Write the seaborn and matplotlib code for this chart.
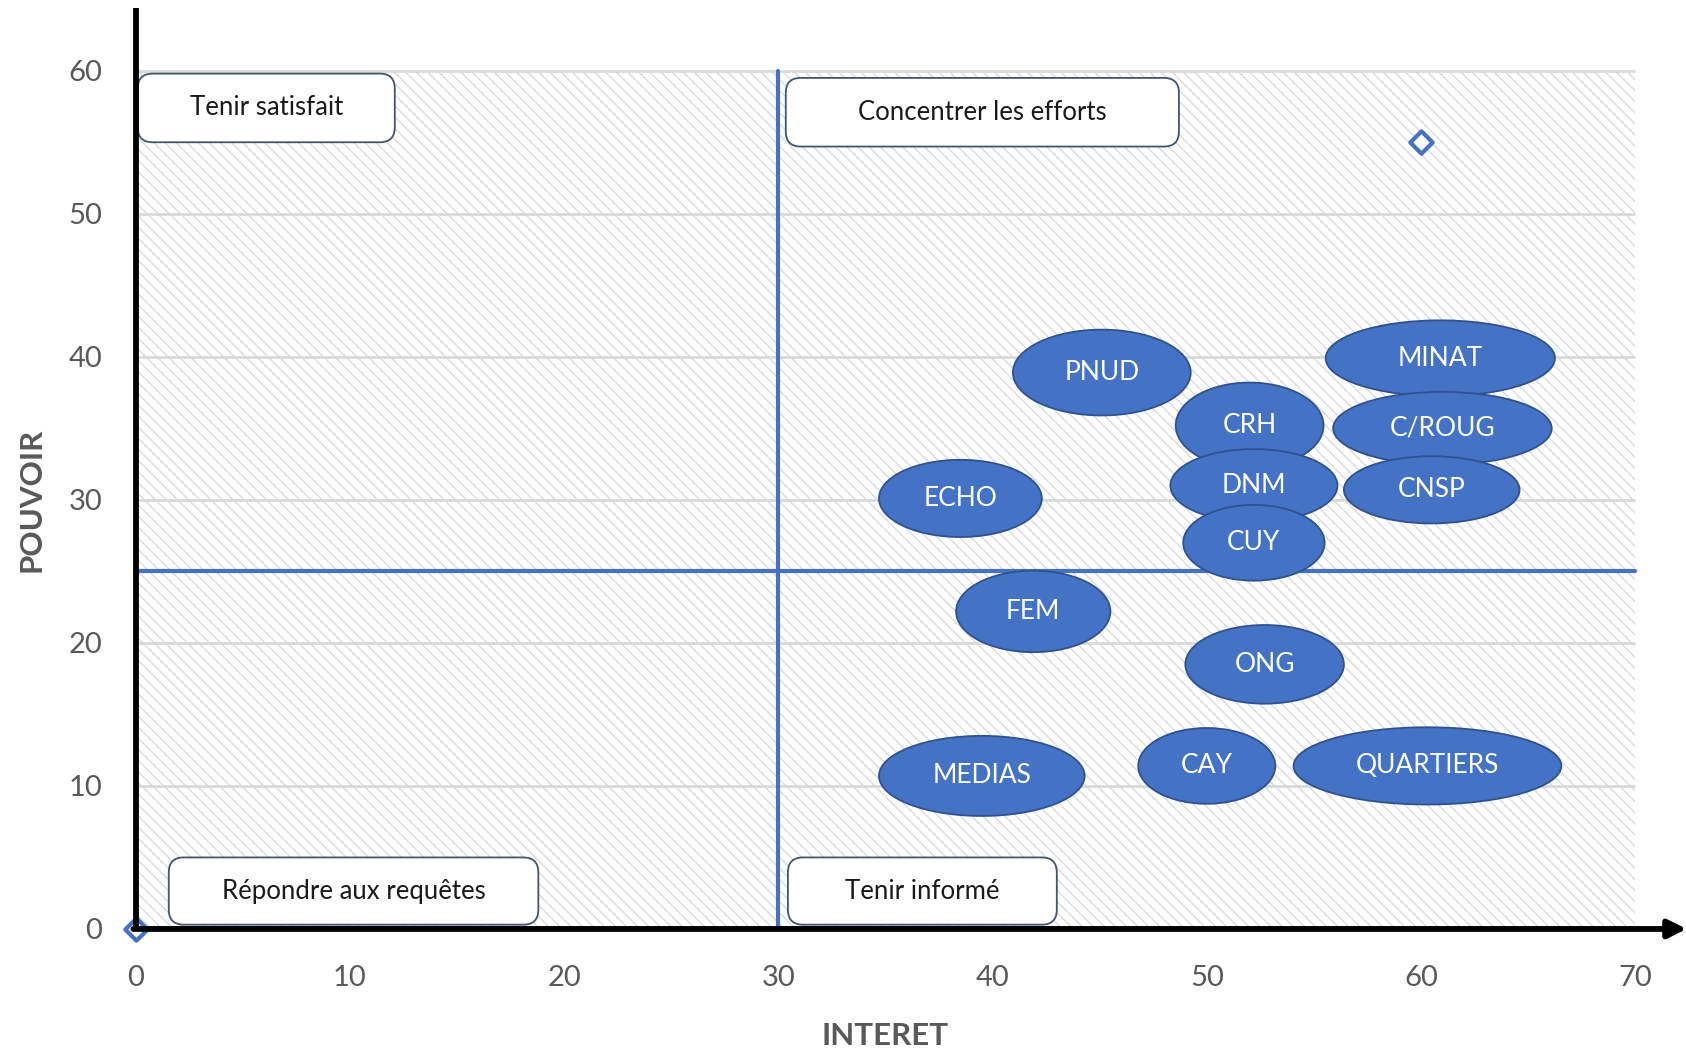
import matplotlib
matplotlib.use("Agg")
import matplotlib.pyplot as plt
from matplotlib.patches import Ellipse, FancyBboxPatch, Rectangle
import seaborn as sns
import pandas as pd

# ---- data ----
names = ["PNUD", "MINAT", "C/ROUG", "CRH", "DNM", "CNSP", "CUY", "ECHO",
         "FEM", "ONG", "MEDIAS", "CAY", "QUARTIERS"]
interet = [45.1, 60.9, 61.0, 52.0, 52.2, 60.5, 52.2, 38.5, 41.9, 52.7, 39.5, 50.0, 60.3]
pouvoir = [38.9, 39.9, 35.0, 35.2, 31.0, 30.7, 27.0, 30.1, 22.2, 18.5, 10.7, 11.4, 11.4]

marker_x = [0, 60]
marker_y = [0, 55]

quadrants = ["Tenir satisfait", "Concentrer les efforts", "Répondre aux requêtes", "Tenir informé"]
x_ticks = [0, 10, 20, 30, 40, 50, 60, 70]
y_ticks = [0, 10, 20, 30, 40, 50, 60]
x_split = 30
y_split = 25

# ---- styles (sizes of shapes, not data) ----
ell_w = [8.3, 10.7, 10.2, 6.9, 7.8, 8.2, 6.6, 7.6, 7.2, 7.4, 9.6, 6.4, 12.5]
ell_h = [6.0, 5.3, 5.1, 6.0, 5.1, 4.7, 5.3, 5.4, 5.7, 5.5, 5.6, 5.3, 5.4]
ell_order = [0, 1, 2, 5, 7, 8, 9, 10, 11, 12, 6, 4, 3]
quad_boxes = [(0.1, 55.0, 12.0, 4.8), (30.35, 54.7, 18.35, 4.8),
              (1.55, 0.3, 17.25, 4.7), (30.45, 0.3, 12.55, 4.7)]

sns.set_theme(style="white")
plt.rcParams['font.family'] = ['Lato', 'DejaVu Sans']
plt.rcParams['hatch.linewidth'] = 1.0

BLUE = "#4472C4"
EDGE = "#2F528F"
GRAY = "#595959"

fig = plt.figure(figsize=(16.86, 10.53), dpi=100)
ax = fig.add_axes([0.0804, 0.1178, 0.920, 0.8775])
ax.set_xlim(0, 72.4)
ax.set_ylim(0, 64.6)
for s in ax.spines.values():
    s.set_visible(False)

# hatched background
ax.add_patch(Rectangle((0, 0), 70, 60, facecolor="white", edgecolor="#DADADA",
                       hatch="\\\\\\", lw=0, zorder=0))
# gridlines
ax.hlines(y_ticks[1:], 0, 70, color="#D9D9D9", lw=2, zorder=1)

# quadrant lines
ax.plot([x_split, x_split], [0, 60], color=BLUE, lw=3, zorder=2)
ax.plot([0, 70], [y_split, y_split], color=BLUE, lw=3, zorder=2)

# quadrant label boxes
for (bx, by, bw, bh), lab in zip(quad_boxes, quadrants):
    ax.add_patch(FancyBboxPatch((bx, by), bw, bh,
                                boxstyle="round,pad=0,rounding_size=0.7",
                                mutation_aspect=1.5, facecolor="white",
                                edgecolor="#44546A", lw=1.3, zorder=3))
    ax.text(bx + bw / 2, by + bh / 2, lab, ha="center", va="center",
            fontsize=18.5, color="#1a1a1a", zorder=3.5)

# data markers
df_m = pd.DataFrame({"x": marker_x, "y": marker_y})
sns.scatterplot(data=df_m, x="x", y="y", marker="D", s=130, facecolor="white",
                edgecolor=BLUE, linewidth=3, ax=ax, zorder=5, clip_on=False)

# stakeholder ellipses
for i in ell_order:
    ax.add_patch(Ellipse((interet[i], pouvoir[i]), ell_w[i], ell_h[i],
                         facecolor=BLUE, edgecolor=EDGE, lw=1.3, zorder=4 + i * 0.01))
    ax.text(interet[i], pouvoir[i], names[i], ha="center", va="center",
            color="white", fontsize=19, zorder=4.005 + i * 0.01)

# axes lines
ax.plot([0, 0], [0, 64.4], color="black", lw=4.2, zorder=6, clip_on=False,
        solid_capstyle="butt")
ax.annotate("", xy=(72.4, 0), xytext=(-0.1, 0),
            arrowprops=dict(arrowstyle="-|>,head_length=0.9,head_width=0.45",
                            lw=4.2, color="black", shrinkA=0, shrinkB=0),
            annotation_clip=False, zorder=6)

ax.set_xticks(x_ticks)
ax.set_yticks(y_ticks)
ax.tick_params(axis="x", length=0, pad=26, labelsize=21, labelcolor=GRAY)
ax.tick_params(axis="y", length=0, pad=24, labelsize=21, labelcolor=GRAY)
ax.set_xlabel("INTERET", fontsize=22.5, fontweight="bold", color=GRAY)
ax.set_ylabel("POUVOIR", fontsize=22.5, fontweight="bold", color=GRAY)
ax.xaxis.set_label_coords(35 / 72.4, -0.101)
ax.yaxis.set_label_coords(-0.058, 30 / 64.6)
ax.grid(False)

fig.savefig("out.png", dpi=100)
